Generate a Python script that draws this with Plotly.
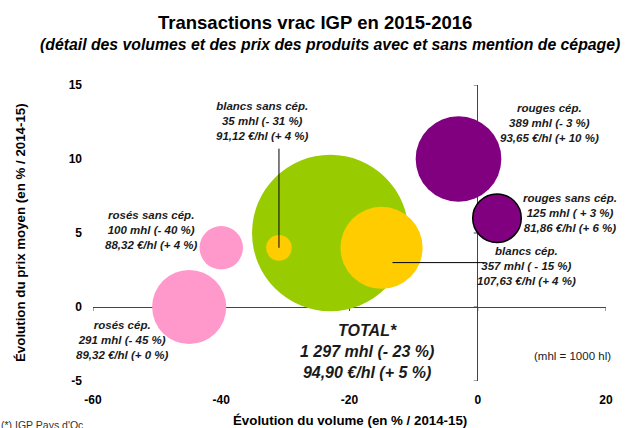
import plotly.graph_objects as go

# ---- data ----
categories = ["TOTAL", "blancs cép.", "blancs sans cép.", "rosés sans cép.", "rosés cép.",
              "rouges cép.", "rouges sans cép."]
volume_change = [-23, -15, -31, -40, -45, -3, 3]        # % / 2014-15
price_change = [5, 4, 4, 4, 0, 10, 6]                   # % / 2014-15
volumes_mhl = [1297, 357, 35, 100, 291, 389, 125]
colors = ["#99CC00", "#FFCC00", "#FFCC00", "#FF99CC", "#FF99CC", "#800080", "#800080"]
outline = [0, 0, 0, 0, 0, 0, 1.5]

label_texts = {
    "blancs sans cép.": "blancs sans cép.<br>35 mhl (- 31 %)<br>91,12 €/hl (+ 4 %)",
    "rouges cép.": "rouges cép.<br>389 mhl (- 3 %)<br>93,65 €/hl (+ 10 %)",
    "rosés sans cép.": "rosés sans cép.<br>100 mhl (- 40 %)<br>88,32 €/hl (+ 4 %)",
    "rouges sans cép.": "rouges sans cép.<br>125 mhl ( + 3 %)<br>81,86 €/hl (+ 6 %)",
    "blancs cép.": "blancs cép.<br>357 mhl ( - 15 %)<br>107,63 €/hl (+ 4 %)",
    "rosés cép.": "rosés cép.<br>291 mhl (- 45 %)<br>89,32 €/hl (+ 0 %)",
}
total_text = "TOTAL*<br>1 297 mhl (- 23 %)<br>94,90 €/hl (+ 5 %)"

x_ticks = [-60, -40, -20, 0, 20]
y_ticks = [-5, 0, 5, 10, 15]

FONT = "Arial, 'Liberation Sans', sans-serif"

fig = go.Figure()
fig.add_trace(go.Scatter(
    x=volume_change, y=price_change, mode="markers",
    marker=dict(size=volumes_mhl, sizemode="area", sizeref=0.106,
                color=colors, opacity=1,
                line=dict(color="black", width=outline)),
    hoverinfo="skip", showlegend=False, cliponaxis=False,
))

# label positions (data coords)
label_pos = {
    "blancs sans cép.": (-33.5, 12.6),
    "rouges cép.": (11.2, 12.4),
    "rosés sans cép.": (-50.9, 5.2),
    "rouges sans cép.": (14.4, 6.35),
    "blancs cép.": (7.6, 2.8),
    "rosés cép.": (-55.4, -2.25),
}
annotations = []
for k, (lx, ly) in label_pos.items():
    annotations.append(dict(x=lx, y=ly, xref="x", yref="y", xanchor="center", yanchor="middle",
                            text="<b><i>" + label_texts[k] + "</i></b>",
                            showarrow=False, font=dict(family=FONT, size=11.5, color="#1a1a1a"),
                            align="center"))
annotations.append(dict(x=-17.3, y=-3.0, xref="x", yref="y", xanchor="center", yanchor="middle",
                        text="<b><i>" + total_text + "</i></b>",
                        showarrow=False, font=dict(family=FONT, size=16, color="#1a1a1a"), align="center"))
annotations.append(dict(x=14.7, y=-3.3, xref="x", yref="y", xanchor="center", yanchor="middle",
                        text="(mhl = 1000 hl)",
                        showarrow=False, font=dict(family=FONT, size=11.5, color="#1a1a1a")))
# titles
annotations.append(dict(x=0.4327, y=1.2128, xref="paper", yref="paper", xanchor="center", yanchor="middle",
                        text="<b>Transactions vrac IGP en 2015-2016</b>", showarrow=False,
                        font=dict(family=FONT, size=18.5, color="black")))
annotations.append(dict(x=0.462, y=1.1385, xref="paper", yref="paper", xanchor="center", yanchor="middle",
                        text="<b><i>(détail des volumes et des prix des produits avec et sans mention de cépage)</i></b>",
                        showarrow=False, font=dict(family=FONT, size=15.8, color="black")))
annotations.append(dict(x=0.5, y=-0.134, xref="paper", yref="paper", xanchor="center", yanchor="middle",
                        text="<b>Évolution du volume (en % / 2014-15)</b>", showarrow=False,
                        font=dict(family=FONT, size=13.3, color="black")))
annotations.append(dict(x=-0.1423, y=0.5, xref="paper", yref="paper", xanchor="center", yanchor="middle",
                        textangle=-90,
                        text="<b>Évolution du prix moyen (en % / 2014-15)</b>", showarrow=False,
                        font=dict(family=FONT, size=13.3, color="black")))
annotations.append(dict(x=-0.183, y=-0.148, xref="paper", yref="paper", xanchor="left", yanchor="middle",
                        text="(*) IGP Pays d'Oc", showarrow=False,
                        font=dict(family=FONT, size=10.5, color="#333")))

shapes = []
# leader lines
i_bsc = categories.index("blancs sans cép.")
shapes.append(dict(type="line", xref="x", yref="y",
                   x0=volume_change[i_bsc], y0=price_change[i_bsc],
                   x1=volume_change[i_bsc], y1=10.7, line=dict(color="black", width=1)))
shapes.append(dict(type="line", xref="x", yref="y", x0=-13.3, y0=3.0, x1=1.1, y1=3.0,
                   line=dict(color="black", width=1)))
# tick marks on the crossing axes
for t in x_ticks:
    shapes.append(dict(type="line", xref="x", yref="y", ysizemode="pixel", yanchor=0,
                       x0=t, x1=t, y0=0, y1=-4, layer="below", line=dict(color="#444", width=1)))
for t in y_ticks:
    shapes.append(dict(type="line", xref="x", yref="y", xsizemode="pixel", xanchor=0,
                       x0=-4, x1=0, y0=t, y1=t, layer="below", line=dict(color="#444", width=1)))

fig.update_layout(
    width=625, height=428,
    margin=dict(l=93, r=19, t=85, b=47),
    paper_bgcolor="white", plot_bgcolor="white",
    annotations=annotations, shapes=shapes,
    xaxis=dict(range=[-60, 20], tickvals=x_ticks, ticktext=[str(t) for t in x_ticks],
               showgrid=False, showline=False,
               zeroline=True, zerolinecolor="#444", zerolinewidth=1, ticks="",
               ticklabelstandoff=10,
               tickfont=dict(family=FONT, size=12, color="black", weight="bold")),
    yaxis=dict(range=[-5, 15], tickvals=y_ticks, ticktext=[str(t) for t in y_ticks],
               showgrid=False, showline=False,
               zeroline=True, zerolinecolor="#444", zerolinewidth=1, ticks="",
               ticklabelstandoff=10,
               tickfont=dict(family=FONT, size=12, color="black", weight="bold")),
)
fig.write_html("out.html", config={"displayModeBar": False},
               post_script="document.body.style.margin='0px';")
